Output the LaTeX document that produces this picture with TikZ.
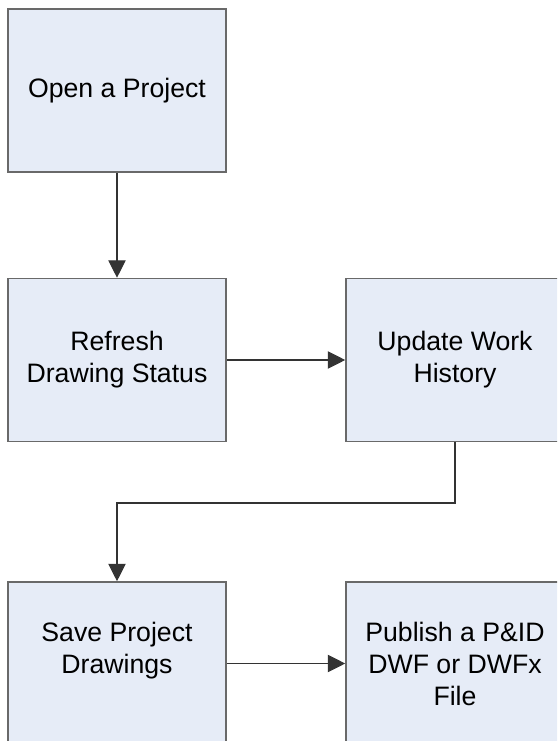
\documentclass[tikz,border=0pt]{standalone}
\usepackage{fontspec}
\setmainfont{Liberation Sans}
\usetikzlibrary{arrows.meta}
\definecolor{boxfill}{RGB}{230,236,247}
\definecolor{boxline}{RGB}{105,105,105}
\tikzset{
 stepbox/.style={draw=boxline, line width=1.2pt, fill=boxfill, minimum width=163.5pt,
  minimum height=122.25pt, align=center, font=\fontsize{20}{24}\selectfont},
 flow/.style={->, line width=0.8pt, draw=black!80}
}
\begin{document}
\begin{tikzpicture}[x=0.75pt, y=-0.75pt, >={Triangle[length=13pt,width=13pt]}]
 \useasboundingbox (0,0) rectangle (557,741);
 \clip (0,0) rectangle (557,741);
 \node[stepbox] (open) at (117,90.5) {Open a Project};
 \node[stepbox] (refresh) at (117,360) {Refresh\\Drawing Status};
 \node[stepbox] (update) at (455,360) {Update Work\\History};
 \node[stepbox] (save) at (117,663.5) {Save Project\\Drawings\\\mbox{}};
 \node[stepbox] (publish) at (455,663.5) {Publish a P\&ID\\DWF or DWFx\\File};
 \coordinate (turn) at (455,503);
 \draw[flow] (open) -- (refresh);
 \draw[flow] (refresh) -- (update);
 \draw[flow] (update.south) -- (turn) -| (save.north);
 \draw[flow] (save) -- (publish);
\end{tikzpicture}
\end{document}
